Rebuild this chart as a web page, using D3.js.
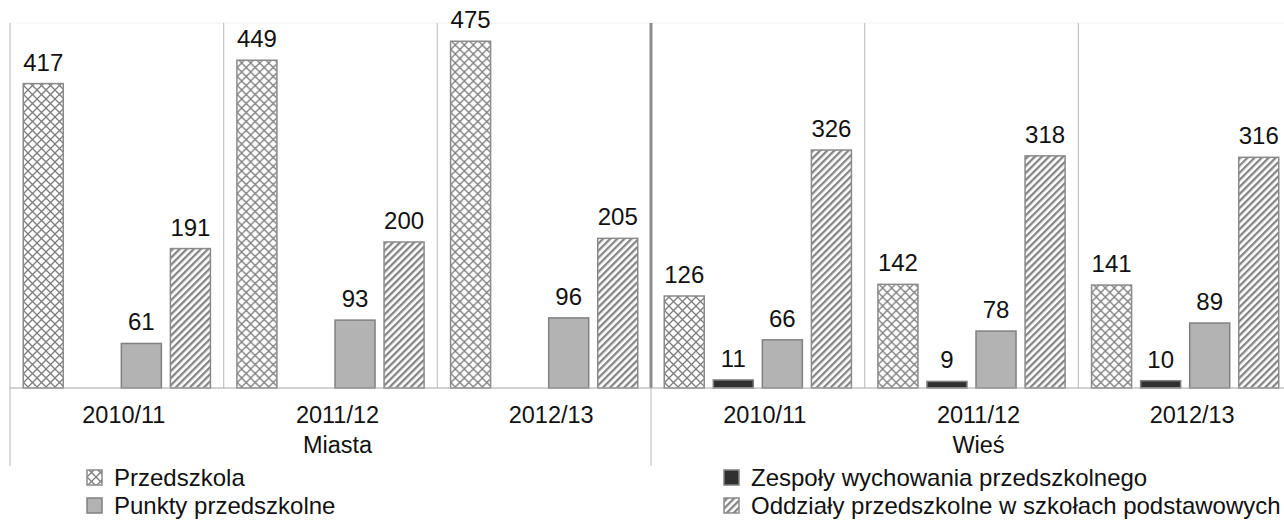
<!DOCTYPE html>
<html>
<head>
<meta charset="utf-8">
<script src="https://cdn.jsdelivr.net/npm/d3@7"></script>
<style>
  body { margin: 0; background: #fff; }
  svg text { font-family: "Liberation Sans", Arial, sans-serif; fill: #111; }
</style>
</head>
<body>
<div id="chart"></div>
<script>
const years = ["2010/11", "2011/12", "2012/13"];
const areas = ["Miasta", "Wieś"];
const seriesNames = ["Przedszkola", "Zespoły wychowania przedszkolnego", "Punkty przedszkolne", "Oddziały przedszkolne w szkołach podstawowych"];
const przedszkola = [417, 449, 475, 126, 142, 141];
const zespoly = [null, null, null, 11, 9, 10];
const punkty = [61, 93, 96, 66, 78, 89];
const oddzialy = [191, 200, 205, 326, 318, 316];

const width = 1284, height = 520;
const margin = {top: 23, left: 10};
const plotRight = 1292, baseY = 388;

const groups = [];
areas.forEach(a => years.forEach(y => groups.push(a + "|" + y)));
const seriesVals = [przedszkola, zespoly, punkty, oddzialy];
const seriesKeys = ["przed", "zesp", "punkt", "oddz"];

const data = groups.map((g, i) => ({
  group: g,
  values: seriesKeys.map((k, j) => ({key: k, value: seriesVals[j][i]}))
}));

const svg = d3.select("#chart").append("svg")
  .attr("width", width).attr("height", height);

// patterns
const defs = svg.append("defs");
const cross = defs.append("pattern").attr("id", "p-przed")
  .attr("patternUnits", "userSpaceOnUse").attr("width", 9).attr("height", 9);
cross.append("rect").attr("width", 9).attr("height", 9).attr("fill", "#fff");
cross.append("path").attr("d", "M-1,-1L10,10M10,-1L-1,10")
  .attr("stroke", "#7c7c7c").attr("stroke-width", 1.3);

const stripes = defs.append("pattern").attr("id", "p-oddz")
  .attr("patternUnits", "userSpaceOnUse").attr("width", 5).attr("height", 5)
  .attr("patternTransform", "rotate(45)");
stripes.append("rect").attr("width", 5).attr("height", 5).attr("fill", "#fff");
stripes.append("rect").attr("width", 2.3).attr("height", 5).attr("fill", "#858585");

const fills = {przed: "url(#p-przed)", zesp: "#303030", punkt: "#b3b3b3", oddz: "url(#p-oddz)"};
const strokes = {przed: "#8a8a8a", zesp: "#808080", punkt: "#808080", oddz: "#8a8a8a"};

const x0 = d3.scaleBand().domain(groups).range([margin.left, plotRight]);
const x1 = d3.scaleBand().domain(seriesKeys).range([0, x0.bandwidth()])
  .paddingInner(0.184).paddingOuter(0.27);
const y = d3.scaleLinear().domain([0, 500]).range([baseY, margin.top]);

// faint top border
svg.append("line").attr("x1", margin.left).attr("x2", plotRight)
  .attr("y1", margin.top).attr("y2", margin.top)
  .attr("stroke", "#f0f0f0").attr("stroke-width", 1);

// group separators
svg.selectAll(".sep").data(groups.slice(1)).enter().append("line")
  .attr("class", "sep")
  .attr("x1", d => x0(d)).attr("x2", d => x0(d))
  .attr("y1", margin.top).attr("y2", baseY)
  .attr("stroke", d => d.startsWith("Wieś|2010") ? "#8c8c8c" : "#c4c4c4")
  .attr("stroke-width", d => d.startsWith("Wieś|2010") ? 3 : 1.2);

// area separators below axis
const areaEdges = [x0(groups[0]), x0(groups[3])];
svg.selectAll(".area-sep").data(areaEdges).enter().append("line")
  .attr("x1", d => d).attr("x2", d => d)
  .attr("y1", (d, i) => i == 0 ? margin.top : baseY).attr("y2", 466)
  .attr("stroke", "#c4c4c4").attr("stroke-width", 1.2);

// bars
const g = svg.selectAll(".grp").data(data).enter().append("g")
  .attr("transform", d => "translate(" + x0(d.group) + ",0)");

g.selectAll("rect").data(d => d.values.filter(v => v.value != null)).enter().append("rect")
  .attr("x", d => x1(d.key))
  .attr("width", x1.bandwidth())
  .attr("y", d => y(d.value))
  .attr("height", d => baseY - y(d.value))
  .attr("fill", d => fills[d.key])
  .attr("stroke", d => strokes[d.key])
  .attr("stroke-width", 1.5);

g.selectAll(".val-label").data(d => d.values.filter(v => v.value != null)).enter().append("text")
  .attr("class", "val-label")
  .attr("x", d => x1(d.key) + x1.bandwidth() / 2)
  .attr("y", d => y(d.value) - 13)
  .attr("text-anchor", "middle")
  .style("font-size", "24px")
  .text(d => d.value);

// baseline
svg.append("line").attr("x1", margin.left).attr("x2", plotRight)
  .attr("y1", baseY).attr("y2", baseY)
  .attr("stroke", "#a6a6a6").attr("stroke-width", 1.2);

// year labels
const xAxis = d3.axisBottom(x0).tickSize(0).tickFormat(d => d.split("|")[1]);
const ax = svg.append("g").attr("transform", "translate(7," + baseY + ")").call(xAxis);
ax.select(".domain").remove();
ax.selectAll("text").attr("y", 35).attr("dy", 0)
  .style("font-size", "23.5px").style("font-family", "Liberation Sans, Arial, sans-serif").attr("fill", "#111");

// area labels
svg.selectAll(".area-label").data(areas).enter().append("text")
  .attr("x", (d, i) => (x0(groups[i * 3]) + x0(groups[i * 3 + 2]) + x0.bandwidth()) / 2 + 7)
  .attr("y", 453)
  .attr("text-anchor", "middle")
  .style("font-size", "23.5px")
  .text(d => d);

// legend
const legendPos = [
  {key: "przed", x: 87, y: 486},
  {key: "zesp", x: 724, y: 486},
  {key: "punkt", x: 87, y: 514},
  {key: "oddz", x: 724, y: 514}
];
const leg = svg.selectAll(".legend").data(legendPos).enter().append("g")
  .attr("transform", d => "translate(" + d.x + "," + d.y + ")");
leg.append("rect").attr("x", 0).attr("y", -16).attr("width", 15).attr("height", 15)
  .attr("fill", d => fills[d.key]).attr("stroke", d => strokes[d.key]).attr("stroke-width", 1.5);
leg.append("text").attr("x", 27).attr("y", 0)
  .style("font-size", "24px")
  .text(d => seriesNames[seriesKeys.indexOf(d.key)]);
</script>
</body>
</html>
